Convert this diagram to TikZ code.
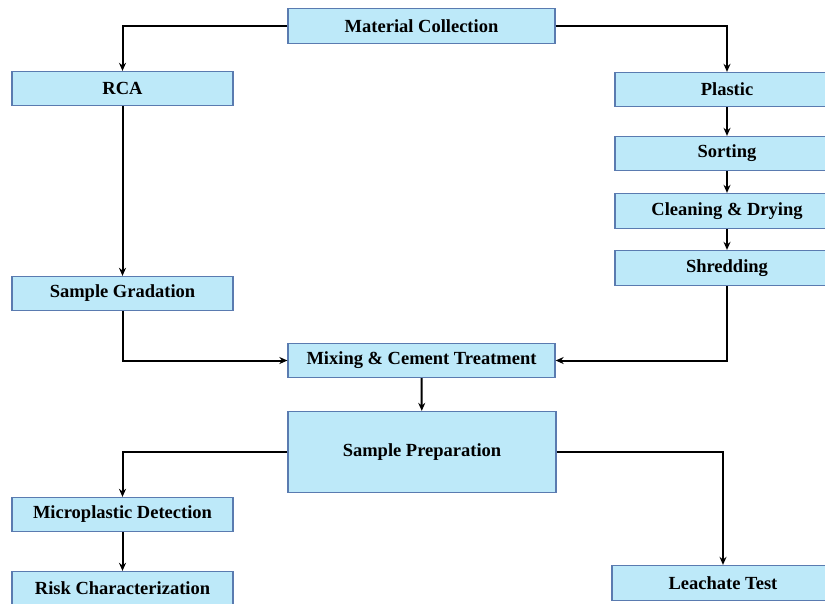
\documentclass[tikz,border=0pt]{standalone}
\usepackage{fontspec}
\setmainfont{Liberation Serif}
\usetikzlibrary{arrows.meta}
\definecolor{boxfill}{HTML}{BDE9F9}
\definecolor{boxline}{HTML}{5A7BB0}

\begin{document}
\begin{tikzpicture}[x=1pt, y=-1pt,
            every node/.style={rectangle, draw=boxline, line width=1.3pt, fill=boxfill,
              inner sep=0pt, font=\fontsize{18.5}{22}\selectfont\bfseries},
            wide/.style={minimum width=267pt, minimum height=35pt},
            side/.style={minimum width=221pt, minimum height=34pt},
            edge_style/.style={draw=black, line width=2pt, -{Stealth[length=8pt,width=7pt]}}]
            \useasboundingbox (0,0) rectangle (825,603);
            \clip (0,0) rectangle (825,603);
            \node[wide] (coll) at (421.5,26) {Material Collection};
            \node[side] (rca) at (122.5,88.5) {RCA};
            \node[side, minimum width=224pt] (plastic) at (727,89.5) {Plastic};
            \node[side, minimum width=224pt] (sorting) at (727,153.5) {Sorting};
            \node[side, minimum width=224pt, minimum height=35pt] (clean) at (727,211) {Cleaning \& Drying};
            \node[side, minimum width=224pt, minimum height=35pt] (shred) at (727,268) {Shredding};
            \node[side] (grad) at (122.5,293.5) {Sample Gradation};
            \node[wide, minimum height=34pt] (mix) at (421.5,360.5) {Mixing \& Cement Treatment};
            \node[wide, minimum width=268pt, minimum height=81pt] (prep) at (422,452) {Sample Preparation};
            \node[side] (micro) at (122.5,514.5) {Microplastic Detection};
            \node[side] (risk) at (122.5,588.5) {Risk Characterization};
            \node[side, minimum width=222pt, minimum height=35pt] (leach) at (723,583) {Leachate Test};
            \draw[edge_style] (coll.west) -| (rca.north);
            \draw[edge_style] (coll.east) -| (plastic.north);
            \draw[edge_style] (rca) -- (grad);
            \draw[edge_style] (plastic) -- (sorting);
            \draw[edge_style] (sorting) -- (clean);
            \draw[edge_style] (clean) -- (shred);
            \draw[edge_style] (grad.south) |- (mix.west);
            \draw[edge_style] (shred.south) |- (mix.east);
            \draw[edge_style] (mix) -- (prep);
            \draw[edge_style] (prep.west) -| (micro.north);
            \draw[edge_style] (prep.east) -| (leach.north);
            \draw[edge_style] (micro) -- (risk);
        \end{tikzpicture}
\end{document}
